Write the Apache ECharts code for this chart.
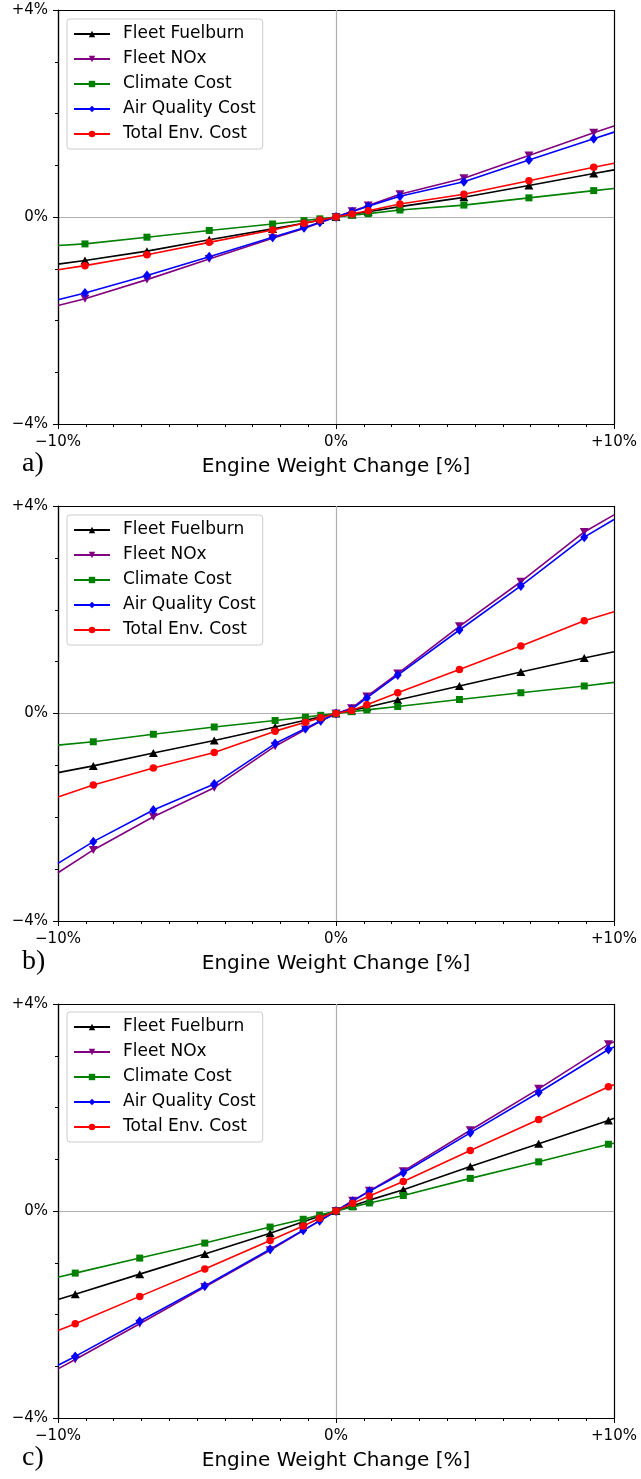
<!DOCTYPE html>
<html><head><meta charset="utf-8">
<script src="https://cdn.jsdelivr.net/npm/echarts@6/dist/echarts.min.js"></script>
<style>html,body{margin:0;padding:0;background:#fff}#c{width:641px;height:1479px}</style>
</head><body><div id="c"></div><script>
// ---- data ----
const seriesNames = ['Fleet Fuelburn', 'Fleet NOx', 'Climate Cost', 'Air Quality Cost', 'Total Env. Cost'];
const panelLabels = ['a)', 'b)', 'c)'];
const xTitle = 'Engine Weight Change [%]';
const xTicks = [-10, 0, 10];
const yTicks = [-4, 0, 4];

// x positions (engine weight change, %) per panel; ±10 entries are where lines leave the frame
const xA = [-10, -9.03, -6.8, -4.56, -2.28, -1.15, -0.58, 0, 0.58, 1.16, 2.3, 4.6, 6.94, 9.27, 10];
const xB = [-10, -8.73, -6.57, -4.38, -2.19, -1.1, -0.55, 0, 0.56, 1.11, 2.22, 4.44, 6.65, 8.93, 10];
const xC = [-10, -9.38, -7.06, -4.72, -2.37, -1.18, -0.59, 0, 0.6, 1.2, 2.42, 4.83, 7.29, 9.8, 10];

// panel a
const fuelA    = [-0.91, -0.84, -0.66, -0.44, -0.23, -0.12, -0.06, 0, 0.05, 0.10, 0.20, 0.38, 0.61, 0.84, 0.91];
const noxA     = [-1.71, -1.58, -1.21, -0.81, -0.41, -0.22, -0.11, 0, 0.11, 0.22, 0.44, 0.75, 1.19, 1.63, 1.76];
const climateA = [-0.55, -0.52, -0.39, -0.26, -0.135, -0.07, -0.035, 0, 0.035, 0.065, 0.135, 0.23, 0.37, 0.51, 0.55];
const aqA      = [-1.60, -1.47, -1.13, -0.77, -0.39, -0.21, -0.10, 0, 0.10, 0.21, 0.40, 0.68, 1.10, 1.51, 1.64];
const totalA   = [-1.02, -0.94, -0.73, -0.49, -0.25, -0.12, -0.06, 0, 0.06, 0.12, 0.25, 0.44, 0.70, 0.96, 1.04];
// panel b
const fuelB    = [-1.14, -1.01, -0.76, -0.52, -0.26, -0.13, -0.065, 0, 0.06, 0.12, 0.26, 0.53, 0.80, 1.07, 1.19];
const noxB     = [-3.07, -2.63, -1.99, -1.43, -0.63, -0.31, -0.15, 0, 0.10, 0.33, 0.77, 1.68, 2.54, 3.50, 3.83];
const climateB = [-0.61, -0.545, -0.40, -0.26, -0.135, -0.07, -0.035, 0, 0.035, 0.07, 0.135, 0.27, 0.40, 0.53, 0.60];
const aqB      = [-2.89, -2.47, -1.86, -1.36, -0.58, -0.29, -0.14, 0, 0.08, 0.30, 0.74, 1.61, 2.46, 3.40, 3.74];
const totalB   = [-1.61, -1.38, -1.05, -0.75, -0.34, -0.17, -0.08, 0, 0.06, 0.17, 0.40, 0.85, 1.30, 1.79, 1.96];
// panel c
const fuelC    = [-1.71, -1.61, -1.22, -0.83, -0.43, -0.21, -0.10, 0, 0.10, 0.21, 0.41, 0.86, 1.30, 1.75, 1.79];
const noxC     = [-3.05, -2.87, -2.18, -1.47, -0.76, -0.38, -0.19, 0, 0.20, 0.39, 0.77, 1.56, 2.36, 3.22, 3.27];
const climateC = [-1.28, -1.20, -0.91, -0.62, -0.31, -0.16, -0.08, 0, 0.08, 0.155, 0.30, 0.63, 0.95, 1.29, 1.31];
const aqC      = [-2.98, -2.81, -2.13, -1.45, -0.74, -0.37, -0.19, 0, 0.19, 0.38, 0.74, 1.51, 2.29, 3.12, 3.17];
const totalC   = [-2.31, -2.18, -1.65, -1.12, -0.57, -0.29, -0.14, 0, 0.15, 0.29, 0.57, 1.17, 1.77, 2.40, 2.44];

const panelX = [xA, xB, xC];
const panelY = [
  [fuelA, noxA, climateA, aqA, totalA],
  [fuelB, noxB, climateB, aqB, totalB],
  [fuelC, noxC, climateC, aqC, totalC]
];

// ---- styling / layout ----
const FONT = 'DejaVu Sans';
const colors = ['#000000', '#800080', '#008000', '#0000ff', '#ff0000'];
const symbols = ['triangle', 'triangle', 'rect', 'diamond', 'circle'];
const symRot = [0, 180, 0, 0, 0];
const symSize = [[9, 8], [9, 8], 7, [8, 10], 7.5];
const gridTop = [10, 506, 1004];
const gridH = [414, 415, 414];
const legendTop = [19, 515, 1012];
const labelY = [466, 964, 1460];

function pct(v) {
  if (v === 0) return '0%';
  return (v > 0 ? '+' : '\u2212') + Math.abs(v) + '%';
}

const grids = [], xAxes = [], yAxes = [], series = [], legends = [], graphics = [];
for (let p = 0; p < 3; p++) {
  grids.push({ left: 58, width: 556, top: gridTop[p], height: gridH[p], containLabel: false });
  xAxes.push({
    type: 'value', gridIndex: p, min: -10, max: 10, interval: 10,
    name: xTitle, nameLocation: 'middle', nameGap: 33,
    nameTextStyle: { fontFamily: FONT, fontSize: 20, color: '#000' },
    axisLine: { show: true, onZero: false, lineStyle: { color: '#000', width: 1.2 } },
    axisTick: { show: true, inside: false, length: 5, lineStyle: { color: '#000', width: 1 } },
    minorTick: { show: true, splitNumber: 10, length: 3, lineStyle: { color: '#000', width: 1 } },
    axisLabel: { fontFamily: FONT, fontSize: 15, color: '#000', margin: 11, formatter: v => pct(v) },
    splitLine: { show: true, lineStyle: { color: ['#000', '#b0b0b0', '#000'], width: 1.2 } }
  });
  yAxes.push({
    type: 'value', gridIndex: p, min: -4, max: 4, interval: 4,
    axisLine: { show: true, onZero: false, lineStyle: { color: '#000', width: 1.2 } },
    axisTick: { show: true, inside: false, length: 5, lineStyle: { color: '#000', width: 1 } },
    minorTick: { show: true, splitNumber: 4, length: 3, lineStyle: { color: '#000', width: 1 } },
    axisLabel: { fontFamily: FONT, fontSize: 15, color: '#000', margin: 10, formatter: v => pct(v) },
    splitLine: { show: true, lineStyle: { color: ['#000', '#b0b0b0', '#000'], width: 1.2 } }
  });
  for (let s = 0; s < 5; s++) {
    const xs = panelX[p], ys = panelY[p][s];
    series.push({
      type: 'line', name: seriesNames[s], xAxisIndex: p, yAxisIndex: p,
      clip: true, animation: false, silent: true,
      symbol: symbols[s], symbolRotate: symRot[s], symbolSize: symSize[s],
      lineStyle: { color: colors[s], width: 1.6 },
      itemStyle: { color: colors[s], borderWidth: 0 },
      data: xs.map((x, i) => Math.abs(x) >= 10 ? { value: [x, ys[i]], symbol: 'none' } : [x, ys[i]])
    });
  }
  legends.push({
    orient: 'vertical', left: 67, top: legendTop[p],
    padding: [5, 7, 5, 6], itemGap: 5, itemWidth: 36, itemHeight: 8,
    selectedMode: false,
    textStyle: { fontFamily: FONT, fontSize: 17, color: '#000', lineHeight: 20, padding: [0, 0, 0, 8] },
    borderColor: '#cccccc', borderWidth: 1, borderRadius: 3,
    backgroundColor: 'rgba(255,255,255,0.8)',
    data: seriesNames
  });
  graphics.push({
    type: 'text', left: 22, top: labelY[p] - 16,
    style: { text: panelLabels[p], font: '28px "Liberation Serif"', fill: '#000' }
  });
}

const chart = echarts.init(document.getElementById('c'), null, { renderer: 'canvas' });
chart.setOption({
  animation: false,
  backgroundColor: '#fff',
  grid: grids, xAxis: xAxes, yAxis: yAxes, series: series, legend: legends,
  graphic: graphics
});
</script></body></html>
